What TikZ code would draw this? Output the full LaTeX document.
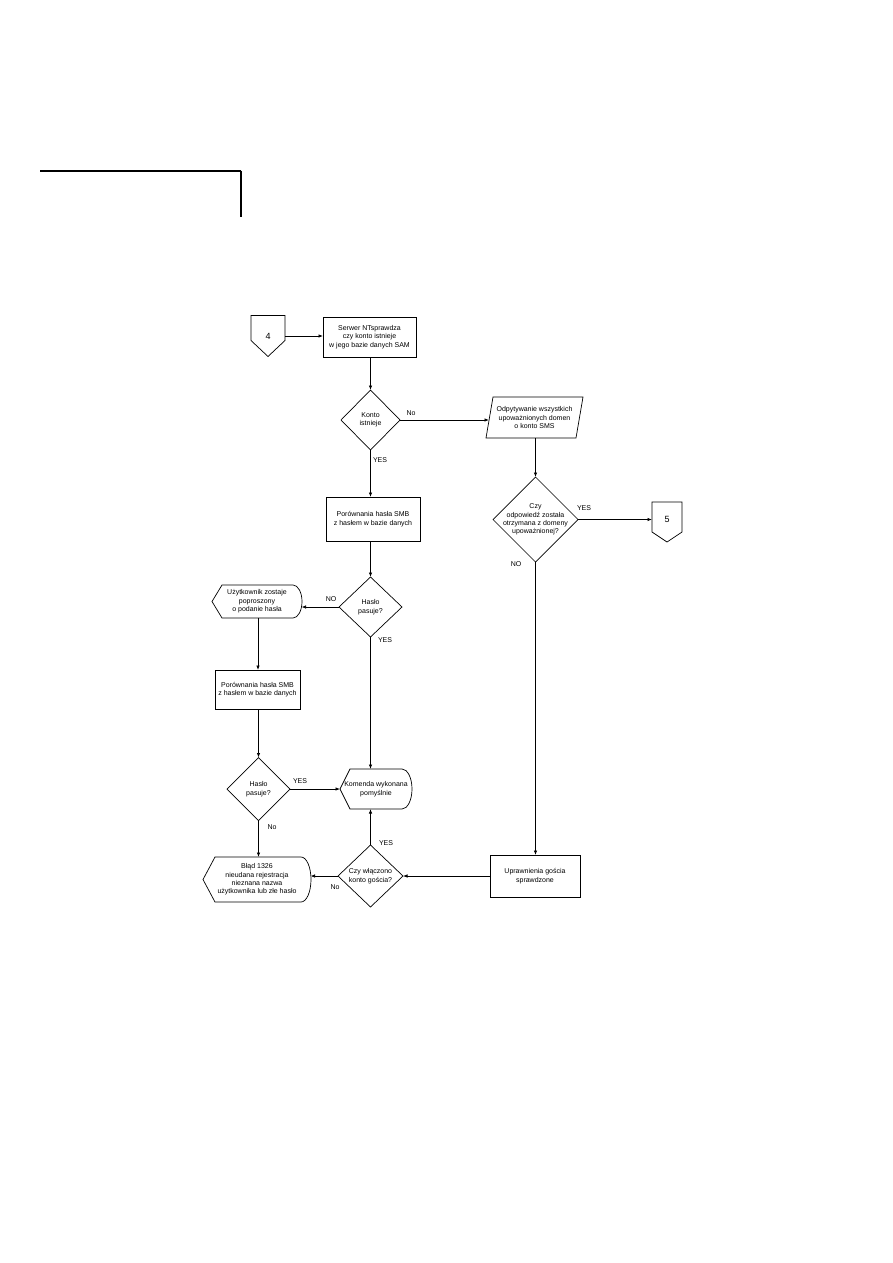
\documentclass[tikz,border=0pt]{standalone}
\usepackage{fontspec}
\setmainfont{Liberation Sans}
\usetikzlibrary{arrows.meta}
\newcommand{\lblfont}{\fontsize{7}{8.4}\selectfont}
\newcommand{\numfont}{\fontsize{9}{10}\selectfont}
\begin{document}
\begin{tikzpicture}[x=1pt,y=-1pt,
  ghost/.style={inner sep=0pt, outer sep=0pt, align=center, font=\lblfont},
  boxnode/.style={ghost, draw, line width=0.7pt},
  shp/.style={line width=0.7pt, line join=miter},
  arr/.style={-{Latex[length=4.5pt,width=3.5pt]}, line width=0.7pt},
  lab/.style={inner sep=0pt, font=\lblfont}]
\useasboundingbox (0,0) rectangle (893,1263);

% top-left decoration
\coordinate (h1) at (40,171);
\coordinate (h2) at (241,171);
\coordinate (v2) at (241,217);
\draw[line width=1.1pt] (h1) -- (h2);
\draw[line width=2.2pt] ([yshift=0.5pt]h2) -- (v2);

% off-page connector 4
\node[ghost, font=\numfont, minimum width=34pt, minimum height=41pt] (c4) at (268,336) {4};
\draw[shp] (c4.north west) -- (c4.north east) -- ([yshift=16pt]c4.south east) -- (c4.south) -- ([yshift=16pt]c4.south west) -- cycle;

% box 1
\node[boxnode, minimum width=93pt, minimum height=40pt] (b1) at (369.5,337) {Serwer NTsprawdza\\czy konto istnieje\\w jego bazie danych SAM};

% diamond 1
\node[ghost, minimum width=59pt, minimum height=60pt] (d1) at (370.5,420) {Konto\\istnieje};
\draw[shp] (d1.north) -- (d1.east) -- (d1.south) -- (d1.west) -- cycle;

% parallelogram
\node[ghost, minimum width=97pt, minimum height=41pt] (p1) at (534.5,417.5) {Odpytywanie wszystkich\\upoważnionych domen\\o konto SMS};
\draw[shp] (p1.south west) -- ([xshift=7pt]p1.north west) -- (p1.north east) -- ([xshift=-7pt]p1.south east) -- cycle;
\coordinate (p1in) at ([xshift=3pt]p1.west);

% diamond 5
\node[ghost, minimum width=85pt, minimum height=85pt] (d5) at (535.5,519.5) {Czy\\odpowiedź została\\otrzymana z domeny\\upoważnionej?};
\draw[shp] (d5.north) -- (d5.east) -- (d5.south) -- (d5.west) -- cycle;

% off-page connector 5
\node[ghost, minimum width=30pt, minimum height=40pt] (c5) at (667,522) {};
\node[lab, font=\numfont] (c5t) at (667,519) {5};
\draw[shp] (c5.north west) -- (c5.north east) -- ([yshift=10pt]c5.south east) -- (c5.south) -- ([yshift=10pt]c5.south west) -- cycle;

% box 2
\node[boxnode, minimum width=94pt, minimum height=44pt] (b2) at (373,519) {Porównania hasła SMB\\z hasłem w bazie danych};

% diamond 2
\node[ghost, minimum width=63pt, minimum height=60pt] (d2) at (370.5,607) {Hasło\\pasuje?};
\draw[shp] (d2.north) -- (d2.east) -- (d2.south) -- (d2.west) -- cycle;

% terminal t1
\node[ghost, minimum width=90pt, minimum height=33pt] (t1) at (257,601.5) {Użytkownik zostaje\\poproszony\\o podanie hasła};
\draw[shp] (t1.west) -- ([xshift=10pt]t1.north west) -- ([xshift=-9pt]t1.north east)
  arc[start angle=90, end angle=-90, x radius=9pt, y radius=16.5pt] -- ([xshift=10pt]t1.south west) -- cycle;

% box 3
\node[boxnode, minimum width=85pt, minimum height=39pt] (b3) at (257.5,689.5) {Porównania hasła SMB\\z hasłem w bazie danych};

% diamond 3
\node[ghost, minimum width=63pt, minimum height=63pt] (d3) at (258.5,789) {Hasło\\pasuje?};
\draw[shp] (d3.north) -- (d3.east) -- (d3.south) -- (d3.west) -- cycle;

% Komenda
\node[ghost, minimum width=72pt, minimum height=40pt] (k) at (376,789) {Komenda wykonana\\pomyślnie};
\draw[shp] (k.west) -- ([xshift=10pt]k.north west) -- ([xshift=-10pt]k.north east)
  arc[start angle=90, end angle=-90, x radius=10pt, y radius=20pt] -- ([xshift=10pt]k.south west) -- cycle;

% Blad
\node[ghost, minimum width=108pt, minimum height=45pt] (e) at (257,879.5) {Błąd 1326\\nieudana rejestracja\\nieznana nazwa\\użytkownika lub złe hasło};
\draw[shp] (e.west) -- ([xshift=12pt]e.north west) -- ([xshift=-10pt]e.north east)
  arc[start angle=90, end angle=-90, x radius=10pt, y radius=22.5pt] -- ([xshift=12pt]e.south west) -- cycle;

% diamond 4
\node[ghost, minimum width=65pt, minimum height=62pt] (d4) at (370.5,876) {Czy włączono\\konto gościa?};
\draw[shp] (d4.north) -- (d4.east) -- (d4.south) -- (d4.west) -- cycle;

% box 4
\node[boxnode, minimum width=90pt, minimum height=42pt] (b4) at (535,876) {Uprawnienia gościa\\sprawdzone};

% connectors
\draw[arr] (c4.east) -- (c4.east -| b1.west);
\draw[arr] (b1.south -| d1.north) -- (d1.north);
\draw[arr] (d1.east) -- (d1.east -| p1in);
\draw[arr] (d1.south) -- (d1.south |- b2.north);
\draw[arr] (p1.south -| d5.north) -- (d5.north);
\draw[arr] (d5.east) -- (d5.east -| c5.west);
\draw[arr] (d5.south) -- (d5.south |- b4.north);
\draw[arr] (b2.south -| d2.north) -- (d2.north);
\draw[arr] (d2.west) -- ([xshift=-0.5pt]d2.west -| t1.east);
\draw[arr] (d2.south) -- (d2.south |- k.north);
\draw[arr] ([xshift=1pt]t1.south) -- ([xshift=1pt]t1.south |- b3.north);
\draw[arr] (b3.south -| d3.north) -- (d3.north);
\draw[arr] (d3.east) -- (d3.east -| k.west);
\draw[arr] (d3.south) -- (d3.south |- e.north);
\draw[arr] (b4.west) -- (b4.west -| d4.east);
\draw[arr] (d4.west) -- ([xshift=-0.5pt]d4.west -| e.east);
\draw[arr] (d4.north) -- (d4.north |- k.south);

% labels
\node[lab] (l1) at (411,413) {No};
\node[lab] (l2) at (380,460) {YES};
\node[lab] (l3) at (584,508) {YES};
\node[lab] (l4) at (516,564) {NO};
\node[lab] (l5) at (331,599) {NO};
\node[lab] (l6) at (385,640) {YES};
\node[lab] (l7) at (300,781) {YES};
\node[lab] (l8) at (272,827) {No};
\node[lab] (l9) at (386,843) {YES};
\node[lab] (l10) at (335,887) {No};
\end{tikzpicture}
\end{document}
